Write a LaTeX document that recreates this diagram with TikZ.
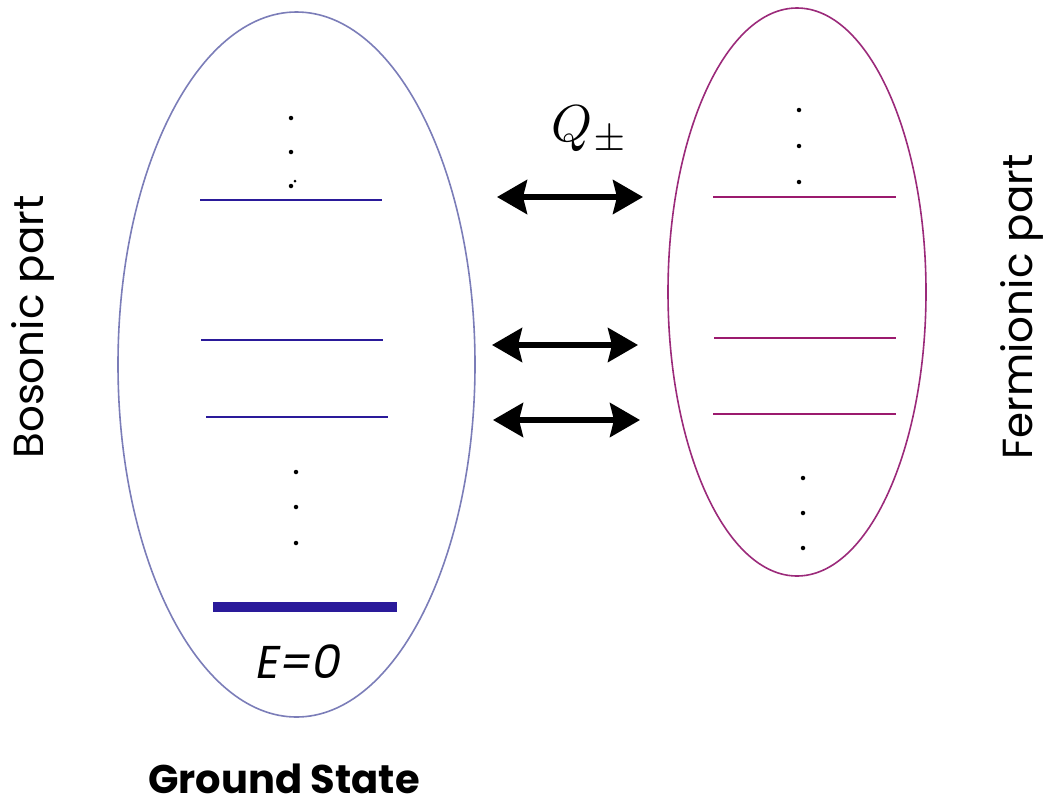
\documentclass[tikz,border=0pt]{standalone}
\usepackage{fontspec}
\setsansfont{Poppins}
\usetikzlibrary{arrows.meta}
\definecolor{bell}{HTML}{7B7DB8}
\definecolor{fell}{HTML}{9B2A7A}
\definecolor{blev}{HTML}{2A1A9A}
\definecolor{flev}{HTML}{9B1A6E}
\tikzset{
  blevel/.style={draw=blev, line width=1.6pt},
  flevel/.style={draw=flev, line width=1.6pt},
  susy/.style={line width=5.5pt, {Stealth[length=30pt,width=34pt,inset=4pt]}-{Stealth[length=30pt,width=34pt,inset=4pt]}},
  ldot/.style={circle, fill=black, inner sep=0pt, minimum size=4.5pt},
  lbl/.style={font=\sffamily\fontsize{42}{44}\selectfont, inner sep=0pt},
}
\begin{document}
\begin{tikzpicture}[x=1pt,y=-1pt]
\useasboundingbox (0,0) rectangle (1046,809);
% ellipses
\draw[bell, line width=1.6pt] (296.5,364.5) ellipse [x radius=178.5, y radius=352.5];
\draw[fell, line width=1.6pt] (797,292) ellipse [x radius=129, y radius=284];
% bosonic levels
\coordinate (b1l) at (200,200); \coordinate (b1r) at (382,200);
\coordinate (b2l) at (201,340); \coordinate (b2r) at (383,340);
\coordinate (b3l) at (206,417); \coordinate (b3r) at (388,417);
\coordinate (b0l) at (213,607); \coordinate (b0r) at (397,607);
\draw[blevel] (b1l) -- (b1r);
\draw[blevel] (b2l) -- (b2r);
\draw[blevel] (b3l) -- (b3r);
\draw[draw=blev, line width=10pt] (b0l) -- (b0r);
% fermionic levels
\coordinate (f1l) at (713,197); \coordinate (f1r) at (896,197);
\coordinate (f2l) at (714,338); \coordinate (f2r) at (896,338);
\coordinate (f3l) at (713,414); \coordinate (f3r) at (896,414);
\draw[flevel] (f1l) -- (f1r);
\draw[flevel] (f2l) -- (f2r);
\draw[flevel] (f3l) -- (f3r);
% dots
\node[ldot] (bd1) at (291,118) {};
\node[ldot] (bd2) at (291,152) {};
\node[ldot] (bd3) at (291,186) {};
\node[circle, fill=black, inner sep=0pt, minimum size=3pt] (bd4) at (295,181) {};
\node[ldot] (bd5) at (296,472) {};
\node[ldot] (bd6) at (296,507) {};
\node[ldot] (bd7) at (296,543) {};
\node[ldot] (fd1) at (799,110) {};
\node[ldot] (fd2) at (799,146) {};
\node[ldot] (fd3) at (799,182) {};
\node[ldot] (fd4) at (803,478) {};
\node[ldot] (fd5) at (803,513) {};
\node[ldot] (fd6) at (803,548) {};
% arrows
\coordinate (a1l) at (497,197); \coordinate (a1r) at (643,197);
\coordinate (a2l) at (492,345); \coordinate (a2r) at (638,345);
\coordinate (a3l) at (493,420); \coordinate (a3r) at (640,420);
\draw[susy] (a1l) -- (a1r);
\draw[susy] (a2l) -- (a2r);
\draw[susy] (a3l) -- (a3r);
% labels
\node[inner sep=0pt, scale=5.2] (q) at (590,130) {$Q_{\pm}$};
\node[lbl, font=\sffamily\fontsize{46}{48}\selectfont] (e0) at (297,662) {\addfontfeatures{FakeSlant=0.18}E=0};
\node[lbl, font=\sffamily\bfseries\fontsize{40}{42}\selectfont] (gs) at (284,779) {Ground State};
\node[lbl, rotate=90] (bp) at (33,327) {Bosonic part};
\node[lbl, rotate=90] (fp) at (1022,307) {Fermionic part};
\end{tikzpicture}
\end{document}
